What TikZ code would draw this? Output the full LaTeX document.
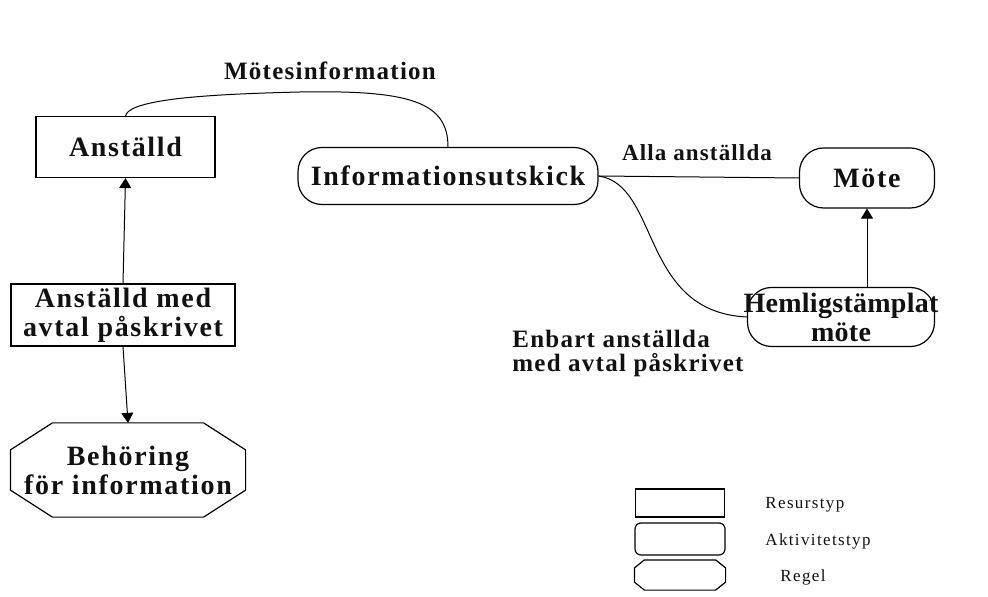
\documentclass[tikz,border=0pt]{standalone}
\usepackage{fontspec}
\setmainfont{Liberation Serif}
\usepackage{tikz}
\usetikzlibrary{
  arrows.meta,
  positioning,
  calc
}
\definecolor{erLine}{HTML}{000000}
\definecolor{erText}{HTML}{111111}
\newcommand{\erfont}{\fontsize{14}{14.5}\selectfont\bfseries\addfontfeature{LetterSpace=6}}
\newcommand{\erlabelfont}{\fontsize{12.5}{12}\selectfont\bfseries\addfontfeature{LetterSpace=5}}
\newcommand{\erlegfont}{\fontsize{8.5}{10}\selectfont\addfontfeature{LetterSpace=8}}
\tikzset{
  ernode/.style={
    draw=erLine, line width=0.6pt, align=center, font=\erfont, text=erText,
    inner sep=1pt
  },
  resurs/.style={ernode},
  aktivitet/.style={ernode, rounded corners=12pt},
  regel/.style={ernode, draw=none},
  relation/.style={font=\erlabelfont, text=erText, align=left, inner sep=1pt},
  legtag/.style={font=\erlegfont, text=erText, anchor=west, inner sep=1pt},
  conn/.style={line width=0.5pt, erLine},
  arr/.style={conn, -{Triangle[length=5pt, width=6pt]}}
}

\begin{document}
\begin{tikzpicture}[x=0.5pt, y=-0.5pt]
  \useasboundingbox (0,0) rectangle (988,597);

  % resurser och regel till vanster
  \node[resurs, minimum width=89.5pt, minimum height=30.5pt] (anst) at (125.5,147) {Anställd};
  \node[resurs, minimum width=112pt, minimum height=31pt] (avtal) at (123,315) {Anställd med\\avtal påskrivet};
  \node[regel, minimum width=117pt, minimum height=46.5pt] (beh) at (128,470) {Behöring\\för information};

  % aktiviteter
  \node[aktivitet, minimum width=150pt, minimum height=28.5pt] (info) at (448,176) {Informationsutskick};
  \node[aktivitet, minimum width=67.5pt, minimum height=30pt] (mote) at (867,178) {Möte};
  \node[aktivitet, minimum width=93.5pt, minimum height=29.5pt, inner xsep=-8pt,
    font=\fontsize{14}{14.5}\selectfont\bfseries\addfontfeature{LetterSpace=1}] (hem) at (841,317) {Hemligstämplat\\möte};

  % kopplingar
  \coordinate (mtop) at (300,92);
  \draw[conn] (anst.north) .. controls +(4,-18) and +(-80,2) .. (mtop)
    .. controls +(110,-2) and +(0,-45) .. (info.north);
  \node[relation] (mlabel) at (330,71) {Mötesinformation};

  \draw[conn] (info.east) -- (mote.west);
  \node[relation, font=\fontsize{11.5}{11}\selectfont\bfseries\addfontfeature{LetterSpace=5}] (alla) at (697,153) {Alla anställda};

  \draw[conn] (info.east) .. controls (660,185) and (640,312) .. (hem.west);
  \node[relation, anchor=west] (enbart) at (510,353) {Enbart anställda\\med avtal påskrivet};

  \draw[arr] (mote.south |- hem.north) -- (mote.south);
  \draw[arr] (avtal.north) -- (anst.south);
  \draw[arr] (avtal.south) -- (beh.north);

  % forklaring
  \node[resurs, minimum width=44.5pt, minimum height=14pt] (legres) at (680,503) {};
  \node[aktivitet, rounded corners=3pt, minimum width=45pt, minimum height=16pt] (legakt) at (680,539) {};
  \node[regel, minimum width=45pt, minimum height=14.5pt] (legreg) at (680,575) {};
  \node[legtag] (tres) at (763,505) {Resurstyp};
  \node[legtag] (takt) at (763,541) {Aktivitetstyp};
  \node[legtag] (treg) at (778,577) {Regel};

  % regelramar (avfasade hörn)
  \foreach \n/\cx/\cy in {beh/21pt/13.5pt, legreg/5pt/4pt}
    \draw[erLine, line width=0.6pt]
      ($(\n.north west)+(\cx,0pt)$) -- ($(\n.north east)+(-\cx,0pt)$)
      -- ($(\n.north east)+(0pt,-\cy)$) -- ($(\n.south east)+(0pt,\cy)$)
      -- ($(\n.south east)+(-\cx,0pt)$) -- ($(\n.south west)+(\cx,0pt)$)
      -- ($(\n.south west)+(0pt,\cy)$) -- ($(\n.north west)+(0pt,-\cy)$) -- cycle;
\end{tikzpicture}
\end{document}
